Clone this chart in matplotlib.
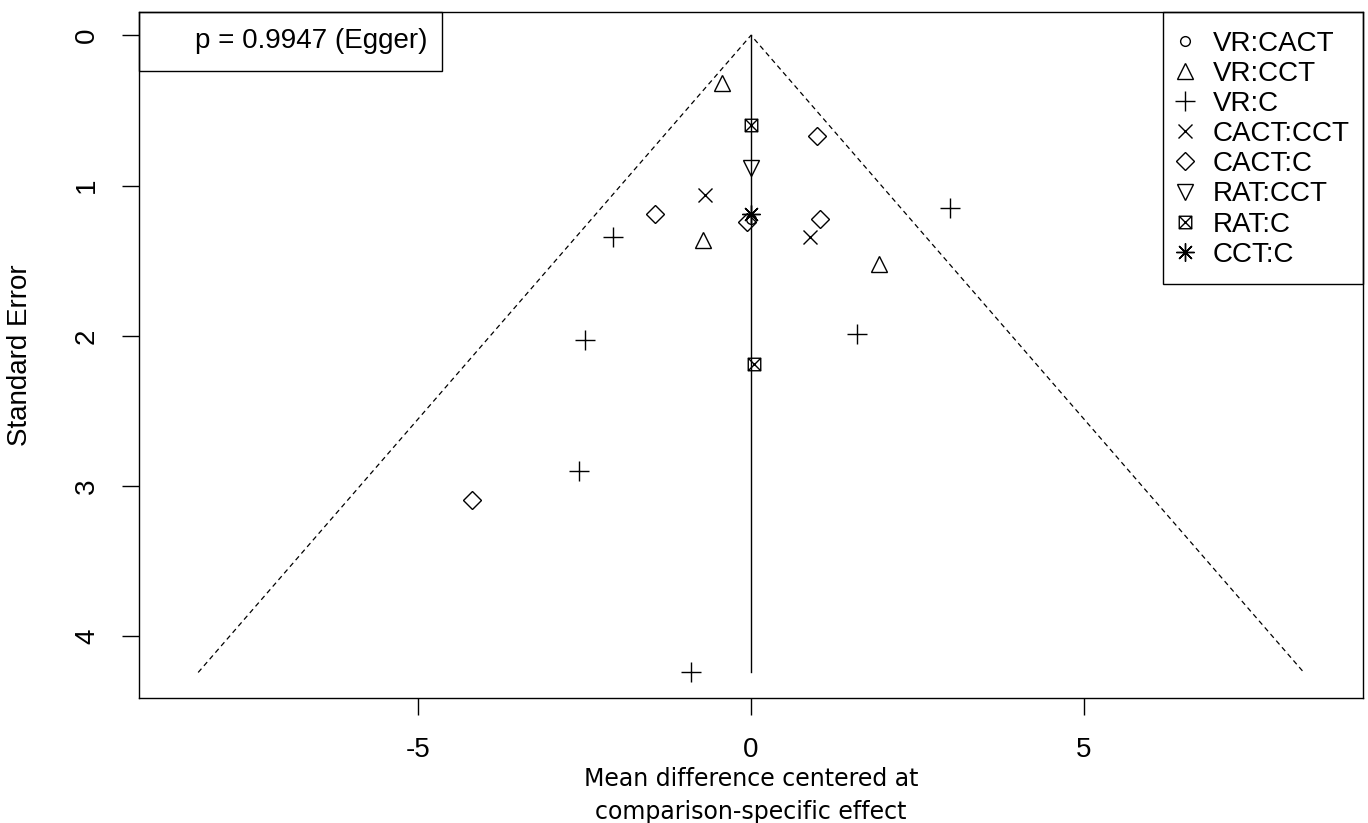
import matplotlib
matplotlib.use("Agg")
import matplotlib.pyplot as plt
import numpy as np
from matplotlib.path import Path
from matplotlib.patches import Rectangle
from matplotlib.lines import Line2D

plt.rcParams["font.family"] = ["Liberation Sans", "DejaVu Sans"]
plt.rcParams["axes.unicode_minus"] = False

# comparisons and their (centered effect, standard error) values
comparisons = ["VR:CACT", "VR:CCT", "VR:C", "CACT:CCT", "CACT:C", "RAT:CCT", "RAT:C", "CCT:C"]
vr_cact_x = [0.0]
vr_cact_se = [1.22]
vr_cct_x = [-0.43, -0.72, 1.92]
vr_cct_se = [0.32, 1.36, 1.52]
vr_c_x = [-2.08, 2.99, 1.60, -2.49, -2.59, -0.90]
vr_c_se = [1.34, 1.15, 1.99, 2.03, 2.90, 4.24]
cact_cct_x = [-0.69, 0.89]
cact_cct_se = [1.06, 1.34]
cact_c_x = [0.99, -1.44, -0.06, 1.04, -4.20]
cact_c_se = [0.67, 1.19, 1.24, 1.22, 3.09]
rat_cct_x = [0.0]
rat_cct_se = [0.88]
rat_c_x = [0.0, 0.05]
rat_c_se = [0.60, 2.19]
cct_c_x = [0.0]
cct_c_se = [1.19]
egger_p = 0.9947

# boxed x symbol (R pch 7)
boxx = Path(
    [(-1, -1), (1, -1), (1, 1), (-1, 1), (-1, -1), (-1, -1), (1, 1), (-1, 1), (1, -1)],
    [Path.MOVETO, Path.LINETO, Path.LINETO, Path.LINETO, Path.CLOSEPOLY,
     Path.MOVETO, Path.LINETO, Path.MOVETO, Path.LINETO],
)

series = [
    (vr_cact_x, vr_cact_se, "o", 7),
    (vr_cct_x, vr_cct_se, "^", 12),
    (vr_c_x, vr_c_se, "+", 14),
    (cact_cct_x, cact_cct_se, "x", 9.5),
    (cact_c_x, cact_c_se, "D", 9),
    (rat_cct_x, rat_cct_se, "v", 12),
    (rat_c_x, rat_c_se, boxx, 9),
    (cct_c_x, cct_c_se, (8, 2, 0), 13),
]

fig = plt.figure(figsize=(13.68, 8.23), dpi=100)
ax = fig.add_axes([139 / 1368, 125 / 823, 1224 / 1368, 686 / 823])

max_se = max(max(s[1]) for s in series)
ax.plot([-1.96 * max_se, 0, 1.96 * max_se], [max_se, 0, max_se],
        color="black", lw=0.9, ls=(0, (4, 3)))
ax.plot([0, 0], [0, max_se], color="black", lw=1)

handles = []
for (xs, ses, mk, ms), name in zip(series, comparisons):
    ax.plot(xs, ses, ls="none", marker=mk, ms=ms, mfc="none", mec="black", mew=1)
    handles.append(Line2D([], [], ls="none", marker=mk, ms=ms, mfc="none",
                          mec="black", mew=1, label=name))

ax.set_xlim(-9.2, 9.2)
ax.set_ylim(4.41, -0.155)
ax.set_xticks([-5, 0, 5])
ax.set_yticks([0, 1, 2, 3, 4])
ax.tick_params(axis="both", length=12, width=1, labelsize=20, pad=16)
ax.tick_params(axis="y", labelrotation=90)
for lab in ax.get_yticklabels():
    lab.set_verticalalignment("center")
for sp in ax.spines.values():
    sp.set_linewidth(1)

ax.set_ylabel("Standard Error", fontsize=20)
ax.yaxis.set_label_coords(-0.087, 0.5)
ax.set_xlabel("Mean difference centered at\ncomparison-specific effect",
              fontsize=17, family="DejaVu Sans", linespacing=1.5)
ax.xaxis.set_label_coords(0.5, -0.1)

# Egger test box
ax.add_patch(Rectangle((0, 0.914), 0.2475, 0.086, transform=ax.transAxes,
                       fill=False, ec="black", lw=1, clip_on=False))
ax.text(0.2353, 0.957, f"p = {egger_p} (Egger)", transform=ax.transAxes,
        ha="right", va="center", fontsize=20)

# legend box
ax.add_patch(Rectangle((0.8366, 0.6035), 0.1634, 0.3965, transform=ax.transAxes,
                       fill=False, ec="black", lw=1, clip_on=False))
ax.legend(handles=handles, loc="upper left", bbox_to_anchor=(0.8431, 0.973),
          frameon=False, fontsize=20, borderpad=0, borderaxespad=0,
          handlelength=1.0, handletextpad=0.5, labelspacing=0.15)

fig.savefig("out.png", dpi=100)
